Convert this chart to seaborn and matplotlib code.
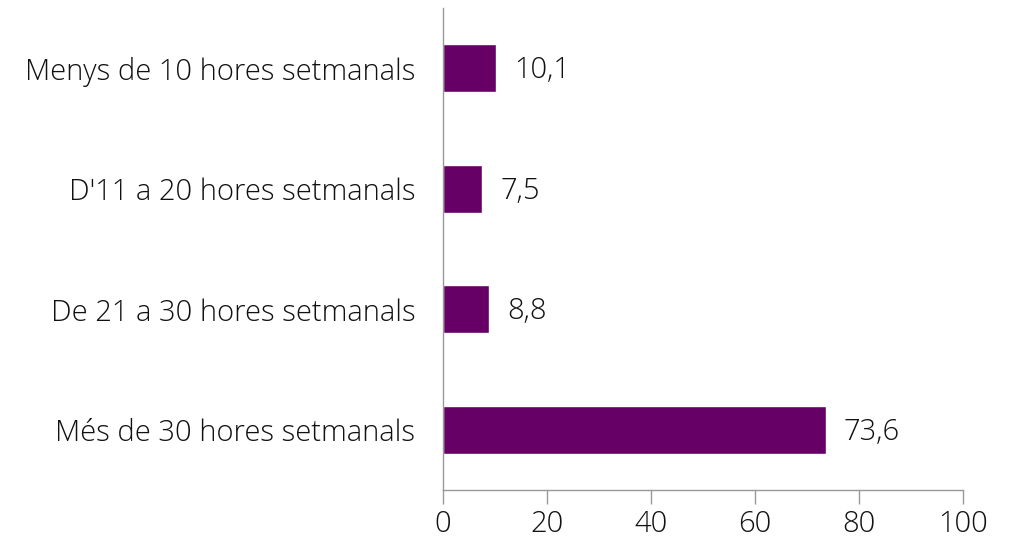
import matplotlib
matplotlib.use("Agg")
import matplotlib.pyplot as plt
import seaborn as sns
import pandas as pd

# Data
categories = ["Menys de 10 hores setmanals", "D'11 a 20 hores setmanals",
              "De 21 a 30 hores setmanals", "Més de 30 hores setmanals"]
values = [10.1, 7.5, 8.8, 73.6]
value_labels = ["10,1", "7,5", "8,8", "73,6"]
x_ticks = [0, 20, 40, 60, 80, 100]

sns.set_style("white")
plt.rcParams['font.family'] = ['Open Sans', 'DejaVu Sans']
plt.rcParams['font.weight'] = 'light'

FS = 21
df = pd.DataFrame({'cat': categories, 'val': values})

fig = plt.figure(figsize=(10.15, 5.42), dpi=100)
ax = fig.add_axes([0.4365, 0.0959, 0.5123, 0.8893])

sns.barplot(data=df, x='val', y='cat', color='#660066', width=0.4,
            saturation=1, ax=ax)

for i, (v, lab) in enumerate(zip(values, value_labels)):
    ax.text(v + 3.5, i + 0.02, lab, va='center', ha='left', fontsize=FS,
            fontweight='light', color='#111111')

ax.set_xlim(0, 100)
ax.set_ylim(3.5, -0.5)
ax.set_xticks(x_ticks)
ax.set_xticklabels([str(t) for t in x_ticks], fontsize=FS, fontweight='light')
ax.set_yticklabels(categories, fontsize=FS, fontweight='light')
ax.set_xlabel('')
ax.set_ylabel('')

for s in ['top', 'right']:
    ax.spines[s].set_visible(False)
for s in ['left', 'bottom']:
    ax.spines[s].set_color('#999999')
    ax.spines[s].set_linewidth(1)

ax.tick_params(axis='x', direction='out', length=10, width=1, color='#999999',
               pad=4, labelcolor='#111111', bottom=True)
ax.tick_params(axis='y', length=0, pad=20, labelcolor='#111111')

fig.savefig('out.png', dpi=100)
